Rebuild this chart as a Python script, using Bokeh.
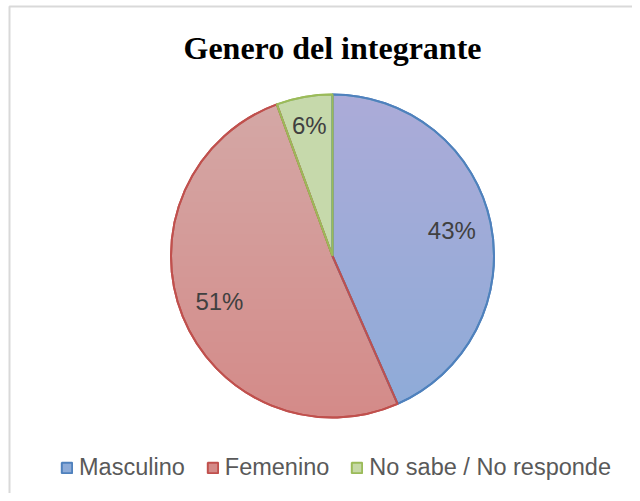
import numpy as np
from bokeh.plotting import figure
from bokeh.models import Range1d, ColumnDataSource, Legend, LegendItem
from bokeh.core.properties import value
from bokeh.embed import file_html
from bokeh.resources import INLINE

# ---- data ----
title_text = "Genero del integrante"
categories = ["Masculino", "Femenino", "No sabe / No responde"]
shares = [43.4, 51.0, 5.6]
labels = ["43%", "51%", "6%"]
fill_colors = ["#8DABD8", "#D48A88", "#C6D9A6"]
line_colors = ["#4F81BD", "#C0504D", "#9BBB59"]

W, H = 632, 493
p = figure(width=W, height=H, output_backend="svg", toolbar_location=None,
           x_range=Range1d(0, W), y_range=Range1d(0, H), min_border=0)
p.axis.visible = False
p.grid.visible = False
p.outline_line_color = None
p.background_fill_color = "white"

def Y(img_y):
    return H - img_y

# chart border (top / left visible)
p.line(x=[9, 9, W], y=[0, Y(6), Y(6)], line_color="#D9D9D9", line_width=2)

cx, cy, R = 332.0, Y(255.5), 161.5
frac = np.array(shares) / sum(shares)
cum = np.concatenate([[0], np.cumsum(frac)])
start = np.pi / 2 - cum[:-1] * 2 * np.pi
end = np.pi / 2 - cum[1:] * 2 * np.pi
src = ColumnDataSource(dict(cat=categories, start=start, end=end,
                            fill=fill_colors, line=line_colors))

wr = p.wedge(x=cx, y=cy, radius=R, start_angle="start", end_angle="end",
             direction="clock", fill_color="fill", line_color="line",
             line_width=2, source=src)

# vertical gradient overlay (lighter toward the top)
N = 30
for k in range(N):
    yk = cy + R - (k + 1) * (2 * R) / N
    s = np.clip((yk - cy) / R, -1, 1)
    t0 = np.arcsin(s)
    th = np.linspace(t0, np.pi - t0, 80)
    p.patch(x=cx + R * np.cos(th), y=cy + R * np.sin(th),
            fill_color="white", fill_alpha=0.012, line_color=None)

# edges on top
p.wedge(x=cx, y=cy, radius=R, start_angle="start", end_angle="end",
        direction="clock", fill_color=None, line_color="line",
        line_width=2, source=src)

# data labels
mid = (start + end) / 2
lr = np.where(frac < 0.1, 0.82, 0.755) * R
p.text(x=cx + lr * np.cos(mid), y=cy + lr * np.sin(mid), text=labels,
       text_font=value("Liberation Sans"), text_font_size="24px",
       text_color="#404040", text_align="center", text_baseline="middle")

# title
p.text(x=[cx], y=[Y(47)], text=[title_text],
       text_font=value("Liberation Serif"), text_font_style="bold",
       text_font_size="32px", text_color="black",
       text_align="center", text_baseline="alphabetic")

legend = Legend(items=[LegendItem(label=c, renderers=[wr], index=i)
                       for i, c in enumerate(categories)],
                orientation="horizontal", location=(60, 12),
                glyph_width=13, glyph_height=13, label_standoff=6, spacing=21,
                padding=0, margin=0, border_line_color=None,
                background_fill_alpha=0,
                label_text_font="Liberation Sans", label_text_font_size="23.5px",
                label_text_color="#595959")
p.add_layout(legend)

open("out.html", "w").write(file_html(p, INLINE))
